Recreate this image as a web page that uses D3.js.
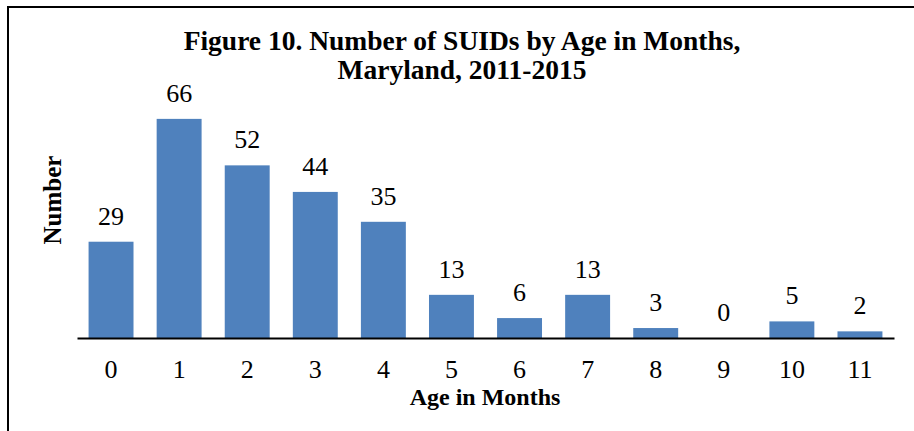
<!DOCTYPE html>
<html>
<head>
<meta charset="utf-8">
<script src="https://cdn.jsdelivr.net/npm/d3@7"></script>
<style>
  body { margin: 0; background: #fff; }
  text { font-family: "Liberation Serif", "Times New Roman", serif; fill: #000; }
</style>
</head>
<body>
<div id="chart"></div>
<script>
// data
const ageMonths = ["0", "1", "2", "3", "4", "5", "6", "7", "8", "9", "10", "11"]
const suidCounts = [29, 66, 52, 44, 35, 13, 6, 13, 3, 0, 5, 2]
const titleLines = ["Figure 10. Number of SUIDs by Age in Months,", "Maryland, 2011-2015"]

const width = 914
const height = 431
const margin = {top: 106, right: 20, bottom: 93, left: 77}

const svg = d3.select("#chart").append("svg")
    .attr("width", width)
    .attr("height", height)

// frame (only top and left edges show)
svg.append("path")
    .attr("d", `M8,${height} L8,7 L${width},7`)
    .attr("fill", "none")
    .attr("stroke", "#000")
    .attr("stroke-width", 2)

const xScale = d3.scaleBand()
    .domain(ageMonths)
    .range([margin.left, 894])
    .paddingInner(0.34)
    .paddingOuter(0.17)

const yScale = d3.scaleLinear()
    .domain([0, 70])
    .range([338, 338 - 70 * 3.32])

// bars
svg.append("g").selectAll("rect")
    .data(suidCounts)
    .join("rect")
        .attr("x", (d, i) => xScale(ageMonths[i]))
        .attr("y", d => yScale(d))
        .attr("width", xScale.bandwidth())
        .attr("height", d => yScale(0) - yScale(d))
        .attr("fill", "#4f81bd")

// value labels
svg.append("g").selectAll("text")
    .data(suidCounts)
    .join("text")
        .attr("x", (d, i) => xScale(ageMonths[i]) + xScale.bandwidth() / 2)
        .attr("y", d => yScale(d) - 17)
        .attr("text-anchor", "middle")
        .style("font-size", "26px")
        .text(d => d)

// x axis
const xAxis = d3.axisBottom(xScale).tickSize(0).tickPadding(0)
const xGroup = svg.append("g")
    .attr("transform", "translate(0,338)")
    .call(xAxis)
xGroup.select(".domain")
    .attr("stroke", "#000")
    .attr("stroke-width", 2)
xGroup.selectAll(".tick text")
    .attr("dy", null)
    .attr("y", 40)
    .style("font-family", "'Liberation Serif', 'Times New Roman', serif")
    .style("font-size", "26px")
    .attr("fill", "#000")

// axis titles
svg.append("text")
    .attr("x", 485)
    .attr("y", 405)
    .attr("text-anchor", "middle")
    .style("font-size", "24px")
    .style("font-weight", "bold")
    .text("Age in Months")

svg.append("text")
    .attr("transform", "translate(61,200) rotate(-90)")
    .attr("text-anchor", "middle")
    .style("font-size", "25px")
    .style("font-weight", "bold")
    .text("Number")

// title
svg.append("text")
    .attr("text-anchor", "middle")
    .style("font-size", "27.5px")
    .style("font-weight", "bold")
    .selectAll("tspan")
    .data(titleLines)
    .join("tspan")
        .attr("x", 462)
        .attr("y", (d, i) => 50 + i * 29)
        .text(d => d)
</script>
</body>
</html>
